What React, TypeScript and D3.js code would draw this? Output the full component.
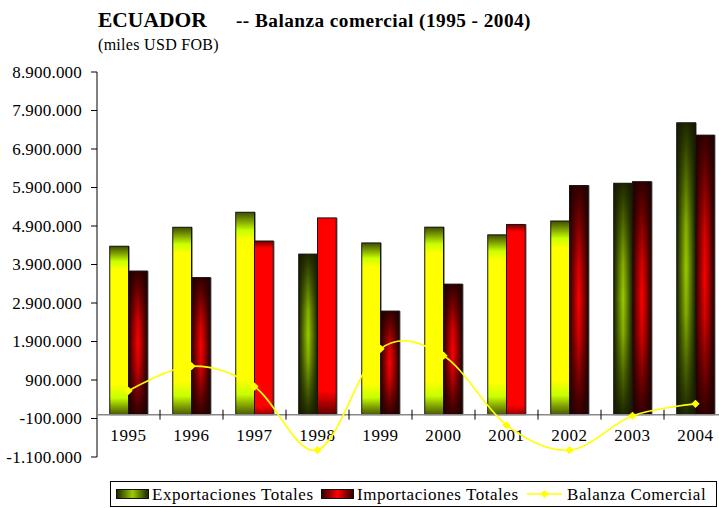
import React from "react";
import * as d3 from "d3";

const years = ["1995", "1996", "1997", "1998", "1999", "2000", "2001", "2002", "2003", "2004"];
const exportaciones = [4374000, 4867000, 5257000, 4170000, 4460000, 4870000, 4670000, 5030000, 6010000, 7580000];
const importaciones = [3730000, 3560000, 4510000, 5110000, 2690000, 3390000, 4940000, 5950000, 6050000, 7260000];
const balanza = [620000, 1260000, 730000, -920000, 1710000, 1530000, -270000, -920000, -30000, 280000];
const yTicks = [-1100000, -100000, 900000, 1900000, 2900000, 3900000, 4900000, 5900000, 6900000, 7900000, 8900000];
const seriesNames = ["Exportaciones Totales", "Importaciones Totales", "Balanza Comercial"];

// fill style per bar (presentation only)
const exportStyle = ["yellowV", "yellowV", "yellowV", "greenC", "yellowV", "yellowV", "yellowV", "yellowV", "greenC", "greenC"];
const importStyle = ["redC", "redC", "redFlatTop", "redFlatBottom", "redC", "redC", "redFlatTop", "redC", "redC", "redC"];

const FONT = "'Liberation Serif', 'Times New Roman', serif";

const fmt = d3.formatLocale({ decimal: ",", thousands: ".", grouping: [3], currency: ["", ""], minus: "-" }).format(",d");

export default function App() {
  const W = 719, H = 508;
  const left = 97, top = 72, bottom = 457;
  const x = d3.scaleBand<string>().domain(years).range([left, left + 630]).paddingInner(0).paddingOuter(0);
  const xi = d3.scaleBand<string>().domain(["exp", "imp"]).range([0, x.bandwidth()]).paddingInner(0).paddingOuter(0.68);
  const y = d3.scaleLinear().domain([-1100000, 8900000]).range([bottom, top]);
  const y0 = y(0);

  const line = d3.line<number>()
    .x((_, i) => (x(years[i]) as number) + x.bandwidth() / 2)
    .y((d) => y(d))
    .curve(d3.curveCatmullRom.alpha(0));
  const marker = d3.symbol().type(d3.symbolSquare).size(34)();

  const bar = (year: string, key: string, v: number, style: string, idx: number) => {
    const bx = (x(year) as number) + (xi(key) as number);
    const bw = xi.bandwidth();
    const yt = y(v);
    const h = y0 - yt;
    const overlay = style === "greenC" ? "url(#ovG)" : style === "redC" ? "url(#ovR)" : null;
    return (
      <g key={key + idx}>
        <rect x={bx + 1.5} y={yt} width={bw} height={h} fill="#9a9a9a" />
        <rect x={bx} y={yt} width={bw} height={h} fill={`url(#${style})`} />
        {overlay && <rect x={bx} y={yt} width={bw} height={h} fill={overlay} />}
        <rect x={bx} y={yt} width={bw} height={h} fill="none" stroke="#151515" strokeWidth={1} />
      </g>
    );
  };

  const legendText = { fontSize: 17, letterSpacing: 0.55 } as const;

  return (
    <svg width={W} height={H} style={{ position: "absolute", left: 0, top: 0, background: "#fff" }} fontFamily={FONT}>
      <defs>
        <linearGradient id="yellowV" x1="0" y1="0" x2="0" y2="1">
          <stop offset="0" stopColor="#3e4d00" />
          <stop offset="0.04" stopColor="#7a9a00" />
          <stop offset="0.09" stopColor="#c8ff00" />
          <stop offset="0.14" stopColor="#ffff00" />
          <stop offset="0.82" stopColor="#ffff00" />
          <stop offset="0.9" stopColor="#c8ff00" />
          <stop offset="0.95" stopColor="#86a800" />
          <stop offset="1" stopColor="#4a5a00" />
        </linearGradient>
        <linearGradient id="greenC" x1="0" y1="0" x2="1" y2="0">
          <stop offset="0" stopColor="#182000" />
          <stop offset="0.5" stopColor="#9acc00" />
          <stop offset="1" stopColor="#182000" />
        </linearGradient>
        <linearGradient id="redC" x1="0" y1="0" x2="1" y2="0">
          <stop offset="0" stopColor="#2a0000" />
          <stop offset="0.5" stopColor="#ff0000" />
          <stop offset="1" stopColor="#2a0000" />
        </linearGradient>
        <linearGradient id="ovG" x1="0" y1="0" x2="0" y2="1">
          <stop offset="0" stopColor="#141a00" stopOpacity="0.92" />
          <stop offset="0.15" stopColor="#141a00" stopOpacity="0.6" />
          <stop offset="0.35" stopColor="#141a00" stopOpacity="0.15" />
          <stop offset="0.5" stopColor="#141a00" stopOpacity="0" />
          <stop offset="0.65" stopColor="#141a00" stopOpacity="0.15" />
          <stop offset="0.85" stopColor="#141a00" stopOpacity="0.6" />
          <stop offset="1" stopColor="#141a00" stopOpacity="0.92" />
        </linearGradient>
        <linearGradient id="ovR" x1="0" y1="0" x2="0" y2="1">
          <stop offset="0" stopColor="#200000" stopOpacity="0.92" />
          <stop offset="0.15" stopColor="#200000" stopOpacity="0.6" />
          <stop offset="0.35" stopColor="#200000" stopOpacity="0.15" />
          <stop offset="0.5" stopColor="#200000" stopOpacity="0" />
          <stop offset="0.65" stopColor="#200000" stopOpacity="0.15" />
          <stop offset="0.85" stopColor="#200000" stopOpacity="0.6" />
          <stop offset="1" stopColor="#200000" stopOpacity="0.92" />
        </linearGradient>
        <linearGradient id="redFlatTop" x1="0" y1="0" x2="0" y2="1">
          <stop offset="0" stopColor="#700000" />
          <stop offset="0.04" stopColor="#ff0000" />
          <stop offset="0.95" stopColor="#ff0000" />
          <stop offset="1" stopColor="#990000" />
        </linearGradient>
        <linearGradient id="redFlatBottom" x1="0" y1="0" x2="0" y2="1">
          <stop offset="0" stopColor="#ff0000" />
          <stop offset="0.88" stopColor="#ff0000" />
          <stop offset="1" stopColor="#600000" />
        </linearGradient>
        <linearGradient id="legG" x1="0" y1="0" x2="1" y2="0">
          <stop offset="0" stopColor="#1c2400" />
          <stop offset="0.5" stopColor="#9acc00" />
          <stop offset="1" stopColor="#1c2400" />
        </linearGradient>
        <linearGradient id="legR" x1="0" y1="0" x2="1" y2="0">
          <stop offset="0" stopColor="#2a0000" />
          <stop offset="0.5" stopColor="#ff0000" />
          <stop offset="1" stopColor="#2a0000" />
        </linearGradient>
      </defs>

      {/* Titles */}
      <text x={98} y={27} fontSize={21.5} fontWeight="bold" fill="#000" letterSpacing={0}>ECUADOR</text>
      <text x={236} y={27} fontSize={19.3} fontWeight="bold" fill="#000" letterSpacing={0.45}>-- Balanza comercial (1995 - 2004)</text>
      <text x={98} y={50} fontSize={16} fill="#000" letterSpacing={0.3}>(miles USD FOB)</text>

      {/* Y axis */}
      <line x1={left} x2={left} y1={top} y2={bottom} stroke="#000" strokeWidth={1} />
      {yTicks.map((t) => (
        <g key={t}>
          <line x1={left - 6} x2={left} y1={y(t)} y2={y(t)} stroke="#000" strokeWidth={1} />
          <text x={82} y={y(t)} dy="0.35em" textAnchor="end" fontSize={17} letterSpacing={0.2} fill="#000">{fmt(t)}</text>
        </g>
      ))}

      {/* Bars */}
      <g>
        {years.map((yr, i) => bar(yr, "exp", exportaciones[i], exportStyle[i], i))}
        {years.map((yr, i) => bar(yr, "imp", importaciones[i], importStyle[i], i))}
      </g>

      {/* X axis */}
      <line x1={left} x2={W} y1={y0} y2={y0} stroke="#888" strokeWidth={1.5} />
      {years.slice(1).map((yr) => (
        <line key={yr} x1={x(yr) as number} x2={x(yr) as number} y1={y0 - 5} y2={y0 + 5} stroke="#000" strokeWidth={1} />
      ))}
      {years.map((yr) => (
        <text key={yr} x={(x(yr) as number) + x.bandwidth() / 2} y={y0 + 26} textAnchor="middle" fontSize={17} letterSpacing={0.6} fill="#000">{yr}</text>
      ))}

      {/* Balanza line */}
      <path d={line(balanza) || ""} fill="none" stroke="#ffff00" strokeWidth={1.6} />
      {balanza.map((v, i) => (
        <path key={i} d={marker || ""} transform={`translate(${(x(years[i]) as number) + x.bandwidth() / 2},${y(v)}) rotate(45)`} fill="#ffff00" />
      ))}

      {/* Legend */}
      <rect x={110.5} y={481.5} width={606} height={25} fill="#fff" stroke="#000" strokeWidth={1} />
      <rect x={116.5} y={489.5} width={32} height={9} fill="url(#legG)" stroke="#111" strokeWidth={1} />
      <text x={152} y={500} {...legendText} fill="#000">{seriesNames[0]}</text>
      <rect x={321.5} y={489.5} width={32} height={9} fill="url(#legR)" stroke="#111" strokeWidth={1} />
      <text x={357} y={500} {...legendText} fill="#000">{seriesNames[1]}</text>
      <line x1={527} x2={562} y1={494} y2={494} stroke="#ffff00" strokeWidth={1.6} />
      <path d={marker || ""} transform="translate(544.5,494) rotate(45)" fill="#ffff00" />
      <text x={567} y={500} {...legendText} fill="#000">{seriesNames[2]}</text>
    </svg>
  );
}
